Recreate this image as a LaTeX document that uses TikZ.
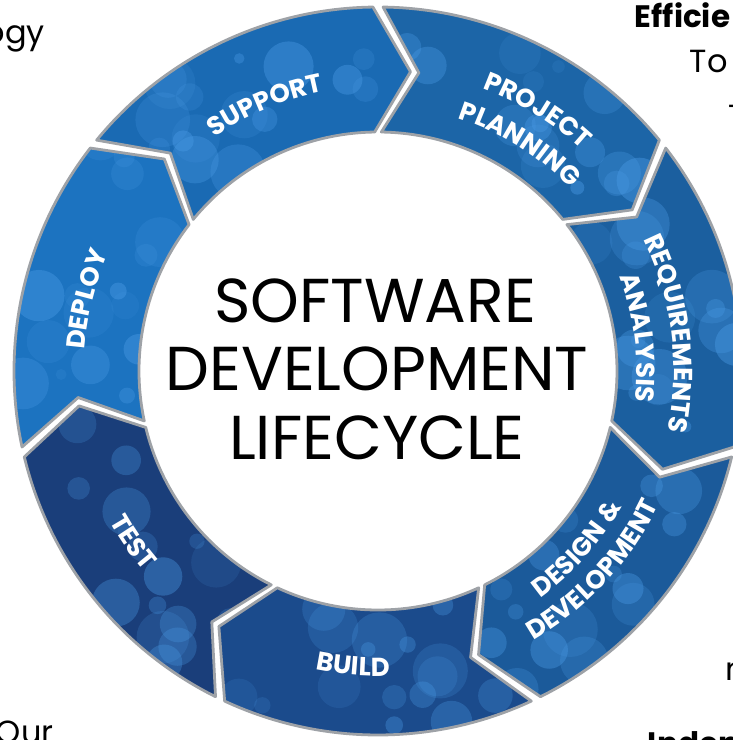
\documentclass[tikz,border=0pt]{standalone}
\usepackage{fontspec}
\setmainfont{Poppins}
\newfontfamily\ringfont[LetterSpace=4]{Poppins}
\usetikzlibrary{decorations.text}
\definecolor{supportblue}{HTML}{1A6AB3}
\definecolor{projectblue}{HTML}{1C65A7}
\definecolor{reqblue}{HTML}{1B5F9F}
\definecolor{designblue}{HTML}{1B5A9A}
\definecolor{buildblue}{HTML}{1B4B8C}
\definecolor{testblue}{HTML}{1A3E7A}
\definecolor{deployblue}{HTML}{1C73C0}
\definecolor{rimgrey}{HTML}{9EA2A7}
\definecolor{bokeh}{HTML}{4A9BE6}
\newcommand\labelfont{\ringfont\bfseries\fontsize{26}{30}\selectfont}
% one chevron of the ring, between \sa and \ea
\newcommand\segpath{(\sa:\Ro pt) arc[start angle=\sa, end angle=\ea, radius=\Ro pt] -- (\ea-\tp:\Rm pt) -- (\ea:\Ri pt) arc[start angle=\ea, end angle=\sa, radius=\Ri pt] -- (\sa-\tp:\Rm pt) -- cycle}
\tikzset{
    every node/.style={inner sep=0pt, outer sep=0pt},
    segment/.style={draw=rimgrey, line width=2.8pt, line join=round},
    bubble/.style={fill=bokeh},
    seglabel/.style={decorate, decoration={text along path, text align=center, text color=white}},
    headline/.style={font=\fontsize{62}{68}\selectfont, anchor=base},
    bodytext/.style={font=\fontsize{32}{38}\selectfont, anchor=base west},
    bodyhead/.style={font=\bfseries\fontsize{31}{36}\selectfont, anchor=base west}
}

\begin{document}
\begin{tikzpicture}
        \useasboundingbox (-378pt,-369pt) rectangle (355pt,371pt);
        \clip (-378pt,-369pt) rectangle (355pt,371pt);
        \def\Ro{364} \def\Ri{239} \def\Rm{301} \def\gp{0.8} \def\tp{7}
        % ring segments, clockwise from the top
        \foreach \i/\col in {0/projectblue,1/reqblue,2/designblue,3/buildblue,4/testblue,5/deployblue,6/supportblue} {
                \pgfmathsetmacro\sa{90-\i*360/7-\gp}
                \pgfmathsetmacro\ea{90-(\i+1)*360/7+\gp}
                \pgfmathtruncatemacro\sd{\i*13+5}
                \pgfmathsetseed{\sd}
                \path[segment, fill=\col, path picture={
                        \foreach \k in {1,...,16} {
                                \pgfmathsetmacro\ba{\ea-4+rnd*(\sa-\ea)}
                                \pgfmathsetmacro\br{\Ri+rnd*(\Ro-\Ri)}
                                \pgfmathsetmacro\bs{5+rnd*23}
                                \pgfmathsetmacro\bo{0.12+rnd*0.3}
                                \fill[bubble, opacity=\bo] (\ba:\br pt) circle (\bs pt);
                        }
                }] \segpath;
        }
        % labels on the ring
        \path[seglabel, decoration={text={|\labelfont|SUPPORT}}] (153:285pt) arc[start angle=153, end angle=73, radius=285pt];
        \path[seglabel, decoration={text={|\labelfont|PROJECT}}] (98.5:301pt) arc[start angle=98.5, end angle=18.5, radius=301pt];
        \path[seglabel, decoration={text={|\labelfont|PLANNING}}] (98:265pt) arc[start angle=98, end angle=18, radius=265pt];
        \path[seglabel, decoration={text={|\labelfont|REQUIREMENTS}}] (47.3:296pt) arc[start angle=47.3, end angle=-32.7, radius=296pt];
        \path[seglabel, decoration={text={|\labelfont|ANALYSIS}}] (47.3:259pt) arc[start angle=47.3, end angle=-32.7, radius=259pt];
        \path[seglabel, decoration={text={|\labelfont|DESIGN {\&}}}] (-81.8:279pt) arc[start angle=-81.8, end angle=-1.8, radius=279pt];
        \path[seglabel, decoration={text={|\labelfont|DEVELOPMENT}}] (-82.8:311pt) arc[start angle=-82.8, end angle=-2.8, radius=311pt];
        \path[seglabel, decoration={text={|\labelfont|BUILD}}] (-134.8:305pt) arc[start angle=-134.8, end angle=-54.8, radius=305pt];
        \path[seglabel, decoration={text={|\labelfont|TEST}}] (-185.1:308pt) arc[start angle=-185.1, end angle=-105.1, radius=308pt];
        \path[seglabel, decoration={text={|\labelfont|DEPLOY}}] (206.2:294pt) arc[start angle=206.2, end angle=126.2, radius=294pt];
        % centre title
        \node (t1) [headline] at (-3pt, 49pt) {SOFTWARE};
        \node (t2) [headline] at (-1pt, -19pt) {DEVELOPMENT};
        \node (t3) [headline] at (-1pt, -88pt) {LIFECYCLE};
        % page text cut off by the frame
        \node (ogy) [bodytext, anchor=base east] at (-333pt, 328pt) {ogy};
        \node (eff) [bodyhead] at (257pt, 344pt) {Efficie};
        \node (to) [bodytext] at (312pt, 299pt) {To};
        \node (tee) [bodytext] at (351pt, 244pt) {T};
        \node (emm) [bodytext] at (347pt, -309pt) {m};
        \node (our) [bodytext] at (-382pt, -372pt) {Our};
        \node (indep) [bodyhead] at (270pt, -383pt) {Indep};
\end{tikzpicture}
\end{document}
